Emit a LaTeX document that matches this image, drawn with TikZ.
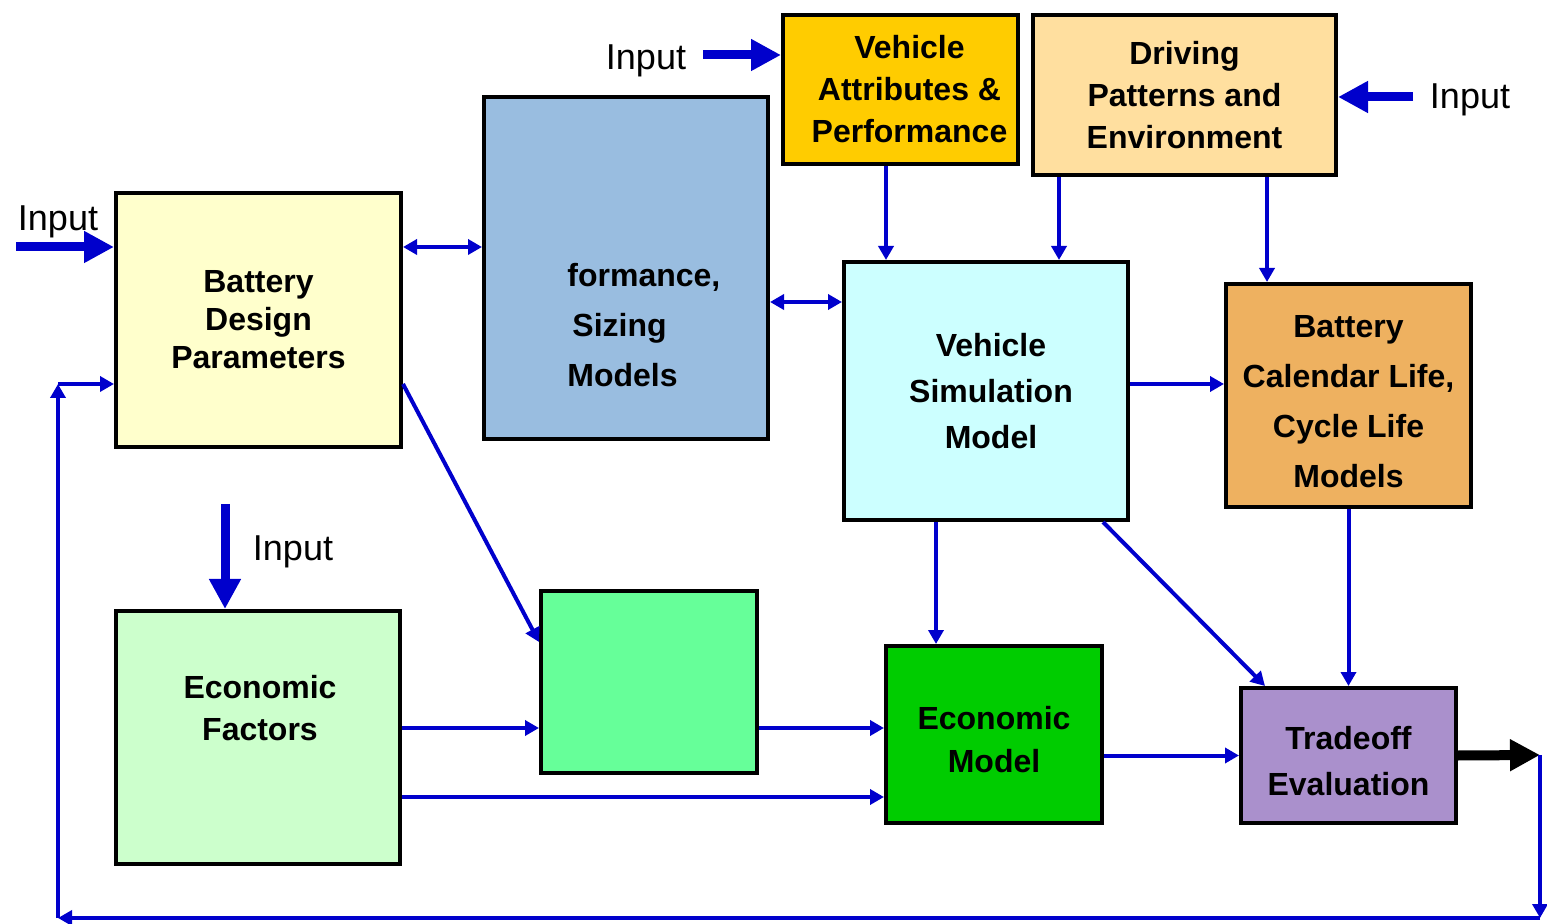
\documentclass[tikz,border=0pt]{standalone}
\usepackage{fontspec}
\setmainfont{Liberation Sans}
\usetikzlibrary{arrows.meta}

\definecolor{linkblue}{HTML}{0000CC}
\definecolor{bdpfill}{HTML}{FFFFCC}
\definecolor{psmfill}{HTML}{99BDE0}
\definecolor{vapfill}{HTML}{FFCC00}
\definecolor{dpefill}{HTML}{FFDF9F}
\definecolor{vsmfill}{HTML}{CCFFFF}
\definecolor{bclfill}{HTML}{EEB160}
\definecolor{effill}{HTML}{CCFFCC}
\definecolor{gbfill}{HTML}{66FF99}
\definecolor{emfill}{HTML}{00CC00}
\definecolor{tefill}{HTML}{AA90CC}

\tikzset{
  box/.style={draw=black, line width=2pt, inner sep=0pt, align=center,
    font=\bfseries\fontsize{16}{19}\selectfont},
  boxtext/.style={inner sep=0pt, align=center},
  link/.style={draw=linkblue, line width=2pt, >={Triangle[length=7pt,width=7.5pt]}},
  inarrow/.style={draw=linkblue, line width=4.5pt, -{Triangle[length=15pt,width=15pt]}},
  outarrow/.style={draw=black, line width=5pt, -{Triangle[length=15pt,width=15pt]}},
  intext/.style={inner sep=0pt, font=\fontsize{18}{21}\selectfont}
}

\begin{document}
\begin{tikzpicture}[x=0.5pt, y=-0.5pt]
\useasboundingbox (0,0) rectangle (1547,924);

\node[box, fill=bdpfill, minimum width=142.5pt, minimum height=127pt] (bdp) at (258.5,320)
  {Battery\\Design\\Parameters};
\node[box, fill=psmfill, minimum width=142pt, minimum height=171pt] (psm) at (626,268) {};
\node[boxtext, anchor=west, align=left, font=\bfseries\fontsize{16}{25}\selectfont] (psmtext) at (567,325)
  {formance,\\\hspace*{2.5pt}Sizing\\Models};
\node[box, fill=vapfill, minimum width=117.5pt, minimum height=74.5pt, font=\bfseries\fontsize{16}{21}\selectfont] (vap) at (900.5,89.5)
  {\hspace*{9pt}Vehicle\\\hspace*{9pt}Attributes \&\\\hspace*{9pt}Performance};
\node[box, fill=dpefill, minimum width=151.5pt, minimum height=80pt, font=\bfseries\fontsize{16}{21}\selectfont] (dpe) at (1184.5,95)
  {Driving\\Patterns and\\Environment};
\node[box, fill=vsmfill, minimum width=142pt, minimum height=129pt, font=\bfseries\fontsize{16}{23}\selectfont] (vsm) at (986,391)
  {\hspace*{5pt}Vehicle\\\hspace*{5pt}Simulation\\\hspace*{5pt}Model};
\node[box, fill=bclfill, minimum width=122.5pt, minimum height=111.5pt] (bcl) at (1348.5,395.5) {};
\node[boxtext, font=\bfseries\fontsize{16}{25}\selectfont] (bcltext) at (1348.5,401.5)
  {Battery\\Calendar Life,\\Cycle Life\\Models};
\node[box, fill=effill, minimum width=142pt, minimum height=126.5pt] (ef) at (258,737.5) {};
\node[boxtext, font=\bfseries\fontsize{16}{21}\selectfont] (eftext) at (260,708) {Economic\\Factors};
\node[box, fill=gbfill, minimum width=108pt, minimum height=91pt] (gb) at (649,682) {};
\node[box, fill=emfill, minimum width=108pt, minimum height=88.5pt] (em) at (994,734.5) {};
\node[boxtext, font=\bfseries\fontsize{16}{21.5}\selectfont] (emtext) at (994,739.5) {Economic\\Model};
\node[box, fill=tefill, minimum width=107.5pt, minimum height=67.5pt] (te) at (1348.5,755.5) {};
\node[boxtext, font=\bfseries\fontsize{16}{23}\selectfont] (tetext) at (1348.5,761.5) {Tradeoff\\Evaluation};

\node[intext] (in1) at (58,222) {Input};
\node[intext] (in2) at (646,61) {Input};
\node[intext] (in3) at (1470,100) {Input};
\node[intext] (in4) at (293,552) {Input};
\coordinate (s1) at (16,247);
\coordinate (s2) at (703,55);
\coordinate (s3) at (1413,97);
\coordinate (s4) at (225,504);
\coordinate (out) at (1540,755);
\coordinate (fbr) at (1540,918);
\coordinate (fbl) at (58,918);
\coordinate (fbu) at (58,384);

\draw[inarrow] (s1) -- (bdp.west |- s1);
\draw[inarrow] (s2) -- (vap.west |- s2);
\draw[inarrow] (s3) -- (dpe.east |- s3);
\draw[inarrow] (s4) -- (ef.north -| s4);

\draw[link,<->] (bdp.east |- 0,247) -- (psm.west |- 0,247);
\draw[link,<->] (psm.east |- 0,302) -- (vsm.west |- 0,302);
\draw[link,->] (vap.south -| 886,0) -- (vsm.north -| 886,0);
\draw[link,->] (dpe.south -| 1059,0) -- (vsm.north -| 1059,0);
\draw[link,->] (dpe.south -| 1267,0) -- (bcl.north -| 1267,0);
\draw[link,->] (vsm.east |- 0,384) -- (bcl.west |- 0,384);
\draw[link,->] (vsm.south -| 936,0) -- (em.north -| 936,0);
\draw[link,->] (vsm.south -| 1103,0) -- (te.north -| 1265,0);
\draw[link,->] (bcl.south) -- (te.north);
\draw[link,->] (bdp.east |- fbu) -- (gb.west |- 0,642);
\draw[link,->] (ef.east |- 0,728) -- (gb.west |- 0,728);
\draw[link,->] (ef.east |- 0,797) -- (em.west |- 0,797);
\draw[link,->] (gb.east |- 0,728) -- (em.west |- 0,728);
\draw[link,->] (em.east |- te.west) -- (te.west);

\draw[outarrow] (te.east) -- (out);
\draw[link,->] (out) -- (fbr);
\draw[link,->] (fbr) -- (fbl);
\draw[link,->] (fbl) -- (fbu);
\draw[link,->] (fbu) -- (bdp.west |- fbu);
\end{tikzpicture}
\end{document}
